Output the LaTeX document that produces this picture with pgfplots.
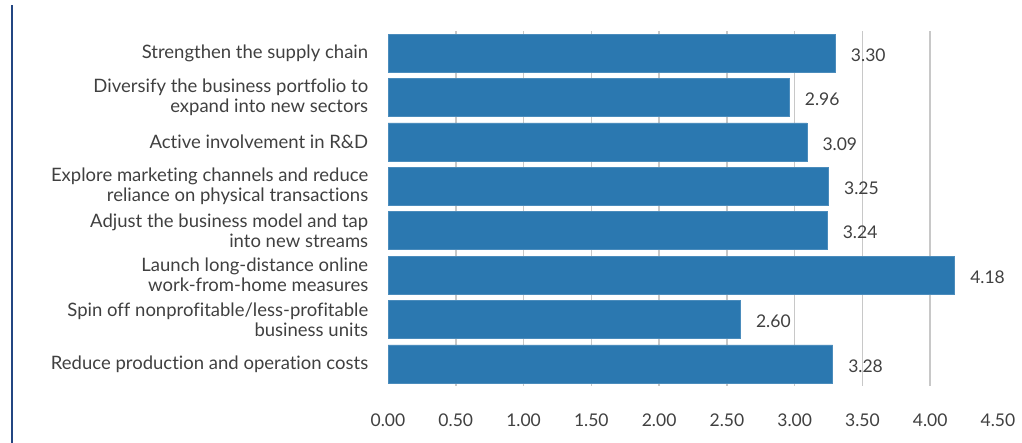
\documentclass[border=0pt]{standalone}
\usepackage{fontspec}
\setmainfont{Lato}[Ligatures=NoCommon]
\usepackage{pgfplots}
\pgfplotsset{compat=1.18}
\definecolor{barblue}{RGB}{43,120,176}
\definecolor{txt}{RGB}{64,64,64}
\definecolor{gridc}{RGB}{200,200,200}
\definecolor{lineblue}{RGB}{35,70,130}
\begin{document}
\begin{tikzpicture}[x=1pt,y=1pt]
\path[use as bounding box] (0,0) rectangle (1022,443);
\draw[lineblue, line width=1.5pt] (12,0) -- (12,438);
\begin{axis}[
  at={(388pt,57pt)}, anchor=south west,
  scale only axis, width=610pt, height=355pt,
  xmin=0, xmax=4.5, ymin=0.5, ymax=8.5,
  y dir=reverse,
  xbar, bar width=38pt,
  axis line style={draw=none},
  tick style={draw=none},
  minor tick style={draw=none},
  xtick={0,0.5,1,1.5,2,2.5,3,3.5,4,4.5},
  minor xtick={0.5,1,1.5,2,2.5,3,3.5,4},
  xminorgrids=true,
  minor grid style={gridc, line width=1.5pt},
  xticklabel style={font=\fontsize{17.5}{20}\selectfont, text=txt, yshift=-24pt,
    /pgf/number format/.cd, fixed, fixed zerofill, precision=2},
  /pgf/number format/assume math mode=true,
  ytick={1,2,3,4,5,6,7,8},
  yticklabels={
    Strengthen the supply chain,
    {Diversify the business portfolio to\\expand into new sectors},
    Active involvement in R\&D,
    {Explore marketing channels and reduce\\reliance on physical transactions},
    {Adjust the business model and tap\\into new streams},
    {Launch long-distance online\\work-from-home measures},
    {Spin off nonprofitable/less-profitable\\business units},
    Reduce production and operation costs},
  yticklabel style={font=\fontsize{18.5}{20}\selectfont, text=txt, align=right, xshift=-12pt},
  nodes near coords,
  nodes near coords style={font=\fontsize{17.5}{20}\selectfont, text=txt, xshift=12pt, yshift=-2pt,
    /pgf/number format/.cd, fixed, fixed zerofill, precision=2, assume math mode=true},
]
\addplot[fill=barblue, draw=barblue!85!white, line width=0.6pt] coordinates {
  (3.30,1) (2.96,2) (3.09,3) (3.25,4) (3.24,5) (4.18,6) (2.60,7) (3.28,8)
};
\end{axis}
\end{tikzpicture}
\end{document}
